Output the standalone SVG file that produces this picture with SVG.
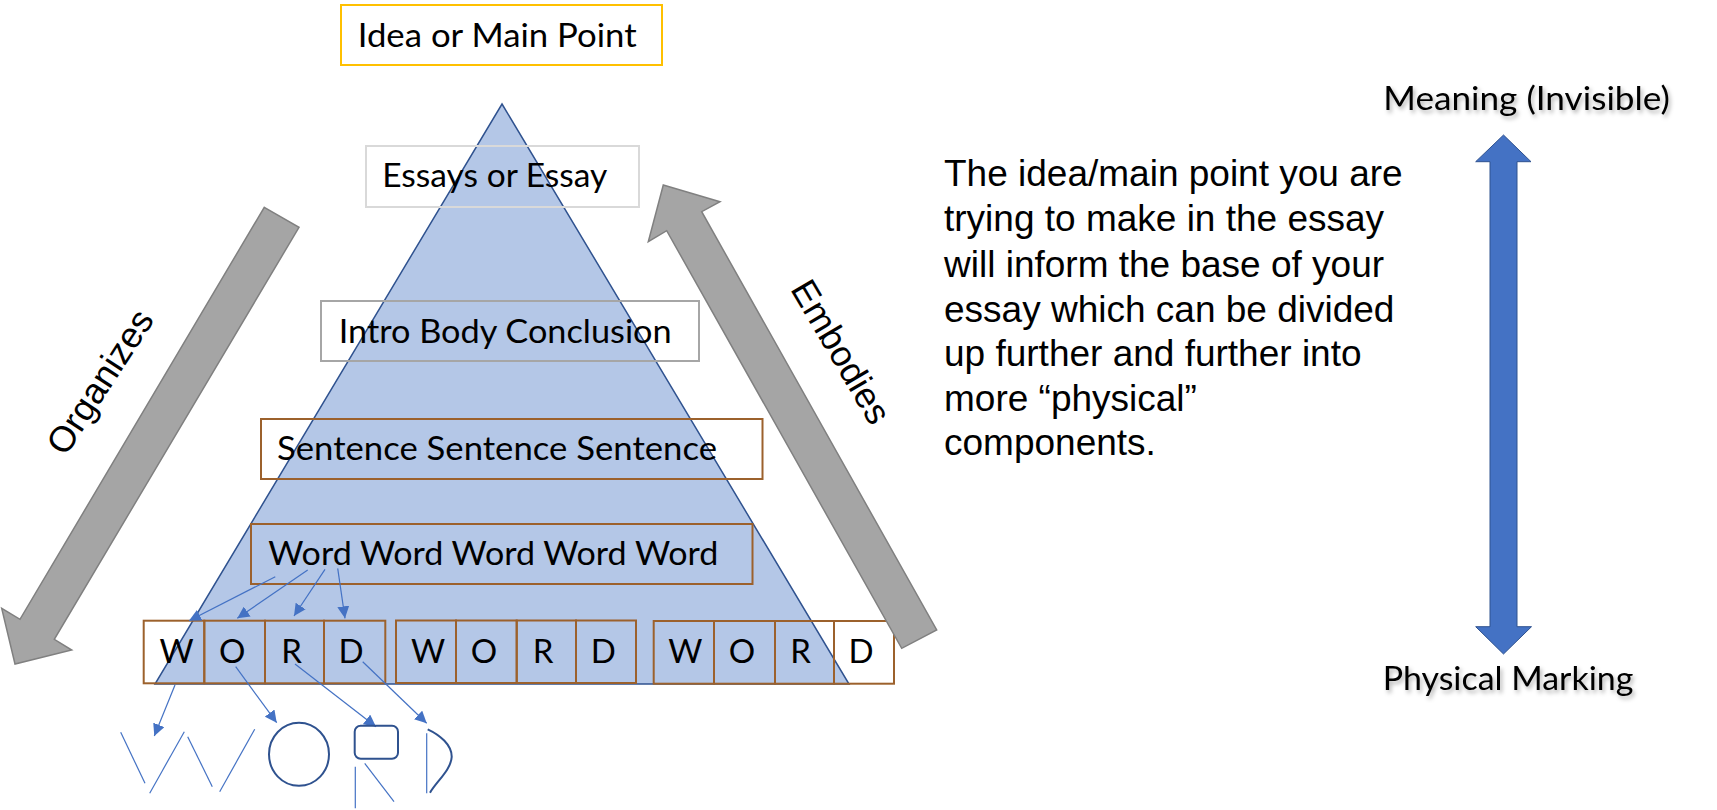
<svg xmlns="http://www.w3.org/2000/svg" width="1717" height="810" viewBox="0 0 1717 810">
  <defs>
    <marker id="ah" markerUnits="userSpaceOnUse" markerWidth="13" markerHeight="12" refX="12" refY="6" orient="auto">
      <path d="M0,0 L12,6 L0,12 Z" fill="#4472C4"/>
    </marker>
    <filter id="shadow" x="-10%" y="-30%" width="120%" height="160%">
      <feDropShadow dx="2" dy="3" stdDeviation="2" flood-color="#000" flood-opacity="0.3"/>
    </filter>
  </defs>
  <style>
    .cal { font-family: Lato, "Open Sans", "Liberation Sans", sans-serif; font-size: 33px; fill: #000; }
    .ari { font-family: "Liberation Sans", Arial, sans-serif; fill: #000; }
    .box { fill: none; stroke-width: 2; }
    .brown { stroke: #9C612C; }
    .conn { stroke: #4472C4; stroke-width: 1.2; fill: none; }
    .thin { stroke: #4472C4; stroke-width: 1.2; fill: none; }
    .thick { stroke: #2F528F; stroke-width: 2; fill: none; }
    .grey-arrow { fill: #A5A5A5; stroke: #808080; stroke-width: 1.5; }
  </style>
  <rect width="1717" height="810" fill="#fff"/>

  <g id="pyramid">
    <polygon points="502,104 849,684 155,684" fill="#B4C7E7" stroke="#2F528F" stroke-width="1.5"/>
  </g>

  <g id="idea">
    <rect class="box" x="341" y="5" width="321" height="60" stroke="#FFC000"/>
    <text class="cal" x="357.7" y="46.7" textLength="279" lengthAdjust="spacingAndGlyphs">Idea or Main Point</text>
  </g>
  <g id="essays">
    <rect class="box" x="366" y="146" width="273" height="61" stroke="#D9D9D9"/>
    <text class="cal" x="382.3" y="186.7" textLength="225" lengthAdjust="spacingAndGlyphs">Essays or Essay</text>
  </g>
  <g id="intro">
    <rect class="box" x="321" y="301" width="378" height="60" stroke="#A6A6A6"/>
    <text class="cal" x="338.7" y="343.3" textLength="333" lengthAdjust="spacingAndGlyphs">Intro Body Conclusion</text>
  </g>
  <g id="sentence">
    <rect class="box brown" x="261" y="419" width="501.5" height="60"/>
    <text class="cal" x="277" y="460" textLength="440" lengthAdjust="spacingAndGlyphs">Sentence Sentence Sentence</text>
  </g>
  <g id="words">
    <rect class="box brown" x="251" y="524" width="501.5" height="60"/>
    <text class="cal" x="268.3" y="565" textLength="450" lengthAdjust="spacingAndGlyphs">Word Word Word Word Word</text>
  </g>

  <g id="letters-1">
    <rect class="box brown" x="143.7" y="620.7" width="60.6" height="62.6"/>
    <rect class="box brown" x="204.3" y="620.7" width="60.7" height="62.6"/>
    <rect class="box brown" x="265" y="620.7" width="59" height="62.6"/>
    <rect class="box brown" x="324" y="620.7" width="61.3" height="62.6"/>
    <text class="cal" x="176.5" y="663.3" text-anchor="middle">W</text>
    <text class="cal" x="232.3" y="663.3" text-anchor="middle">O</text>
    <text class="cal" x="291.7" y="663.3" text-anchor="middle">R</text>
    <text class="cal" x="351" y="663.3" text-anchor="middle">D</text>
  </g>
  <g id="letters-2">
    <rect class="box brown" x="396" y="620.5" width="60" height="62.5"/>
    <rect class="box brown" x="456" y="620.5" width="60.7" height="62.5"/>
    <rect class="box brown" x="516.7" y="620.5" width="59.3" height="62.5"/>
    <rect class="box brown" x="576" y="620.5" width="60" height="62.5"/>
    <text class="cal" x="428" y="663.3" text-anchor="middle">W</text>
    <text class="cal" x="484" y="663.3" text-anchor="middle">O</text>
    <text class="cal" x="543" y="663.3" text-anchor="middle">R</text>
    <text class="cal" x="603.3" y="663.3" text-anchor="middle">D</text>
  </g>
  <g id="letters-3">
    <rect class="box brown" x="653.7" y="621" width="60.3" height="62.7"/>
    <rect class="box brown" x="714" y="621" width="61" height="62.7"/>
    <rect class="box brown" x="775" y="621" width="59" height="62.7"/>
    <rect class="box brown" x="834" y="621" width="60" height="62.7"/>
    <text class="cal" x="685.3" y="663.3" text-anchor="middle">W</text>
    <text class="cal" x="742" y="663.3" text-anchor="middle">O</text>
    <text class="cal" x="800.5" y="663.3" text-anchor="middle">R</text>
    <text class="cal" x="861" y="663.3" text-anchor="middle">D</text>
  </g>

  <g id="organizes">
    <polygon class="grey-arrow" points="264.3,207.3 299,227.3 54.3,639.3 71.7,650 15,664 1.7,608.3 20,619.3"/>
    <text class="ari" font-size="36" text-anchor="middle" transform="translate(110.3,388.4) rotate(-57)">Organizes</text>
  </g>
  <g id="embodies">
    <polygon class="grey-arrow" points="663.3,185 720,201.7 701.7,211.7 936.7,630 901.7,648.3 666.7,230.7 648.3,241.7"/>
    <text class="ari" font-size="36" text-anchor="middle" transform="translate(830.5,358) rotate(59.5)">Embodies</text>
  </g>

  <g id="connectors">
    <line class="conn" x1="275.3" y1="576.7" x2="189" y2="620.7" marker-end="url(#ah)"/>
    <line class="conn" x1="307.7" y1="570" x2="237.3" y2="618.3" marker-end="url(#ah)"/>
    <line class="conn" x1="325" y1="569.3" x2="294" y2="616" marker-end="url(#ah)"/>
    <line class="conn" x1="337.7" y1="568.3" x2="345" y2="618.3" marker-end="url(#ah)"/>
    <line class="conn" x1="175" y1="685" x2="154.3" y2="736" marker-end="url(#ah)"/>
    <line class="conn" x1="235.7" y1="666.7" x2="276.7" y2="722.7" marker-end="url(#ah)"/>
    <line class="conn" x1="295" y1="664" x2="376" y2="726.7" marker-end="url(#ah)"/>
    <line class="conn" x1="362.7" y1="661.7" x2="426.7" y2="723.3" marker-end="url(#ah)"/>
  </g>

  <g id="marks">
    <line class="thin" x1="120.7" y1="732.3" x2="145" y2="783.3"/>
    <line class="thin" x1="149.7" y1="793.3" x2="184.3" y2="731.7"/>
    <line class="thin" x1="187.7" y1="736.7" x2="212.3" y2="786.7"/>
    <line class="thin" x1="219.7" y1="791.7" x2="254.7" y2="729.3"/>
    <ellipse class="thick" cx="299" cy="754.3" rx="30" ry="31.5"/>
    <rect class="thick" x="354.7" y="725.7" width="43.3" height="33" rx="6"/>
    <line class="thin" x1="355.3" y1="766.7" x2="355.3" y2="808.3"/>
    <line class="thin" x1="364.7" y1="763.3" x2="394" y2="801.7"/>
    <line class="thin" x1="426.7" y1="733.3" x2="426.7" y2="793.3"/>
    <path class="thick" d="M427.7,729.3 C440,735 452,745 451.7,757 C451,770 436,782 430,792.7"/>
  </g>

  <g id="description">
    <text class="ari" font-size="37">
      <tspan x="944" y="186">The idea/main point you are</tspan>
      <tspan x="944" y="231">trying to make in the essay</tspan>
      <tspan x="944" y="276.5">will inform the base of your</tspan>
      <tspan x="944" y="321.5">essay which can be divided</tspan>
      <tspan x="944" y="366">up further and further into</tspan>
      <tspan x="944" y="410.5">more “physical”</tspan>
      <tspan x="944" y="455">components.</tspan>
    </text>
  </g>

  <g id="scale">
    <polygon points="1503.5,135 1531,161.7 1517,161.7 1517,626.7 1531.5,626.7 1503.5,654 1475.7,626.7 1490,626.7 1490,161.7 1475.7,161.7" fill="#4472C4" stroke="#2F528F" stroke-width="1"/>
  </g>
  <g id="meaning">
    <text class="cal" x="1383.3" y="110" textLength="286.7" lengthAdjust="spacingAndGlyphs" filter="url(#shadow)">Meaning (Invisible)</text>
  </g>
  <g id="physical">
    <text class="cal" x="1382.7" y="690" textLength="250.7" lengthAdjust="spacingAndGlyphs" filter="url(#shadow)">Physical Marking</text>
  </g>
</svg>
